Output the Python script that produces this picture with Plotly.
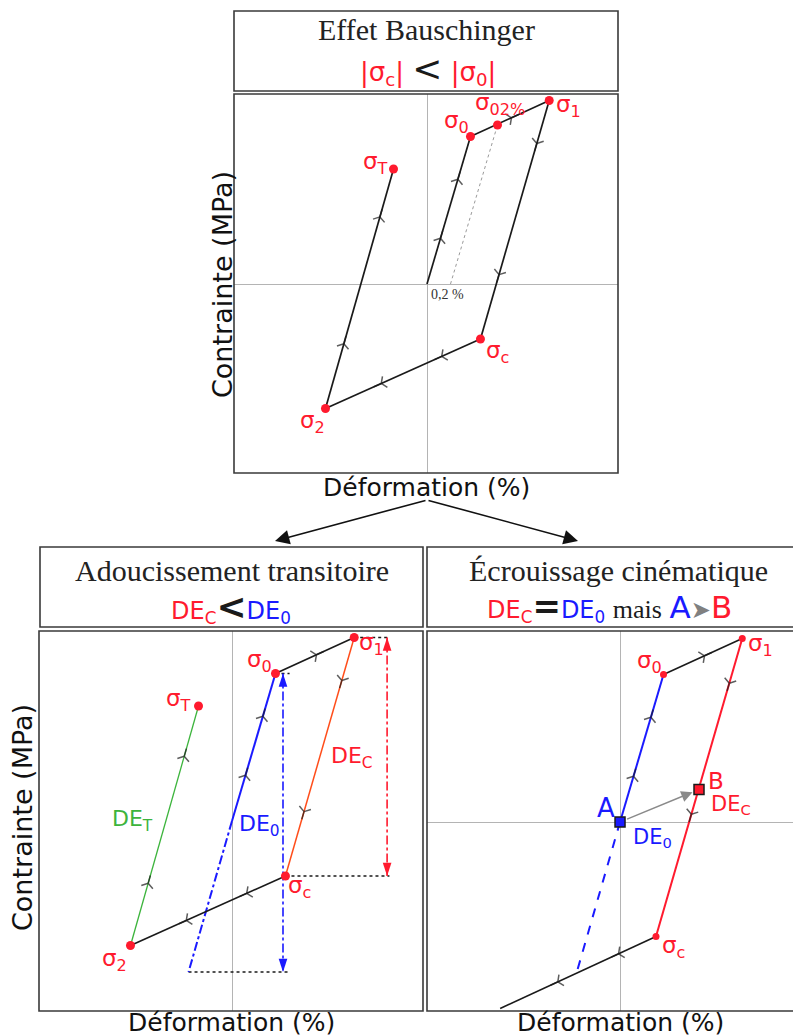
import plotly.graph_objects as go

W, H = 801, 1036
OFF = 8  # page body margin in the browser

# ---------------- data (strain in %, stress in MPa) ----------------
origin = [0.0, 0.0]
sig0 = [0.37, 295]
sig02 = [0.60, 318]
sig1 = [1.04, 367]
sigc = [0.455, -110]
sig2 = [-0.864, -249]
sigT = [-0.285, 230]
offset_02 = [0.20, 0.0]
de0_end = [-0.37, -302]          # lower end of the extended elastic line
sigc_kin = [0.306, -229]         # compressive yield, kinematic hardening
pointA = [0.0, 0.0]
pointB = [0.672, 65]
kin_end = [-1.02, -373]
de0_arrow_x = 0.434
dec_arrow_x = 1.32
dotted_right_end = 0.49

# arrow (chevron) positions along the segments, as fractions
fr_elastic = [0.31, 0.71]
fr_hard = [0.52]
fr_unload = [0.18, 0.73]
fr_reverse = [0.25, 0.64]

RED = "#ff1a2e"
BLUE = "#1a1aff"
GREEN = "#3cb43c"
ORANGE = "#ff4d1a"
INK = "#1a1a1a"

fig = go.Figure()

def PX(x):
    return (x - OFF) / W

def PY(y):
    return 1 - (y - OFF) / H

dom = {
    "1": dict(x=[PX(234), PX(618)], y=[PY(473), PY(94)], xr=[-1.6426, 1.6255], yr=[-378, 380], zy=True),
    "2": dict(x=[PX(39), PX(423)], y=[PY(1011), PY(631)], xr=[-1.6426, 1.6255], yr=[-380, 380], zy=False),
    "3": dict(x=[PX(427), 1.0], y=[PY(1011), PY(631)], xr=[-1.6426, 1.608], yr=[-378, 382], zy=True),
}

def ax_names(k):
    if k == "1":
        return "x", "y"
    return "x" + k, "y" + k

def seg(k, p, q, fr, color, width, dash="solid", arrows=True, arrow_color=INK):
    xa, ya = ax_names(k)
    xs = [p[0]] + [p[0] + t * (q[0] - p[0]) for t in fr] + [q[0]]
    ys = [p[1]] + [p[1] + t * (q[1] - p[1]) for t in fr] + [q[1]]
    sizes = [0] + [10 if arrows else 0] * len(fr) + [0]
    fig.add_trace(go.Scatter(
        x=xs, y=ys, mode="lines+markers", xaxis=xa, yaxis=ya,
        line=dict(color=color, width=width, dash=dash),
        marker=dict(symbol="y-up", size=sizes, angleref="previous", color=arrow_color,
                    line=dict(color=arrow_color, width=1.5)),
        hoverinfo="skip", showlegend=False))

def line(k, xs, ys, color, width, dash="solid"):
    xa, ya = ax_names(k)
    fig.add_trace(go.Scatter(x=xs, y=ys, mode="lines", xaxis=xa, yaxis=ya,
                             line=dict(color=color, width=width, dash=dash),
                             hoverinfo="skip", showlegend=False))

def dots(k, pts, color=RED, size=9, symbol="circle", lc=None):
    xa, ya = ax_names(k)
    fig.add_trace(go.Scatter(x=[p[0] for p in pts], y=[p[1] for p in pts], mode="markers",
                             xaxis=xa, yaxis=ya,
                             marker=dict(color=color, size=size, symbol=symbol,
                                         line=dict(color=lc or color, width=1.5 if lc else 0)),
                             hoverinfo="skip", showlegend=False))

def dbl_arrow(k, x, y_top, y_bot, color):
    xa, ya = ax_names(k)
    line(k, [x, x], [y_top, y_bot], color, 1.6, "dashdot")
    fig.add_trace(go.Scatter(x=[x, x], y=[y_top, y_bot], mode="markers", xaxis=xa, yaxis=ya,
                             marker=dict(symbol="arrow", size=14, angle=[0, 180], color=color,
                                         line=dict(width=0)),
                             hoverinfo="skip", showlegend=False))

# ---------------- top panel : Bauschinger ----------------
line("1", [offset_02[0], sig02[0]], [offset_02[1], sig02[1]], "#9a9a9a", 1, "dot")
seg("1", origin, sig0, fr_elastic, INK, 1.7)
seg("1", sig0, sig1, fr_hard, INK, 1.7)
seg("1", sig1, sigc, fr_unload, INK, 1.7)
seg("1", sigc, sig2, fr_reverse, INK, 1.7)
seg("1", sig2, sigT, [0.27, 0.8], INK, 1.7)
dots("1", [sig0, sig02, sig1, sigc, sig2, sigT])

# ---------------- bottom left : transient softening ----------------
line("2", [sig0[0], dotted_right_end], [sig0[1], sig0[1]], INK, 1.4, "dot")
line("2", [de0_end[0], dotted_right_end], [de0_end[1], de0_end[1]], INK, 1.4, "dot")
line("2", [sig1[0], dec_arrow_x + 0.02], [sig1[1], sig1[1]], INK, 1.4, "dot")
line("2", [sigc[0], dec_arrow_x + 0.02], [sigc[1], sigc[1]], INK, 1.4, "dot")
seg("2", origin, de0_end, [], BLUE, 2, "dashdot", arrows=False)
seg("2", origin, sig0, fr_elastic, BLUE, 2)
seg("2", sig0, sig1, fr_hard, INK, 1.6)
seg("2", sig1, sigc, fr_unload, ORANGE, 1.5)
seg("2", sigc, sig2, fr_reverse, INK, 1.6)
seg("2", sig2, sigT, [0.26, 0.79], GREEN, 1.3)
dbl_arrow("2", de0_arrow_x, sig0[1], de0_end[1], BLUE)
dbl_arrow("2", dec_arrow_x, sig1[1], sigc[1], RED)
dots("2", [sig0, sig1, sigc, sig2, sigT])

# ---------------- bottom right : kinematic hardening ----------------
seg("3", pointA, de0_end, [], BLUE, 2, "dash", arrows=False)
seg("3", pointA, sig0, fr_elastic, BLUE, 2)
seg("3", sig0, sig1, fr_hard, INK, 1.6)
seg("3", sig1, sigc_kin, [0.15, 0.59], RED, 2)
seg("3", sigc_kin, kin_end, [0.24, 0.63], INK, 1.6)
dots("3", [sig0, sig1, sigc_kin], size=7)
dots("3", [pointA], color=BLUE, size=10, symbol="square", lc=INK)
dots("3", [pointB], color=RED, size=10, symbol="square", lc=INK)

# ---------------- axes ----------------
layout_axes = {}
for k, d in dom.items():
    xa, ya = ax_names(k)
    xkey = "xaxis" if k == "1" else "xaxis" + k
    ykey = "yaxis" if k == "1" else "yaxis" + k
    layout_axes[xkey] = dict(domain=d["x"], range=d["xr"], anchor=ya, showgrid=False,
                             showticklabels=False, ticks="", zeroline=True,
                             zerolinecolor="#b4b4b4", zerolinewidth=1.3, showline=False,
                             fixedrange=True)
    layout_axes[ykey] = dict(domain=d["y"], range=d["yr"], anchor=xa, showgrid=False,
                             showticklabels=False, ticks="", zeroline=d["zy"],
                             zerolinecolor="#b4b4b4", zerolinewidth=1.3, showline=False,
                             fixedrange=True)

# ---------------- frames ----------------
shapes = []
def rect(x0, y0, x1, y1):
    shapes.append(dict(type="rect", xref="paper", yref="paper",
                       x0=PX(x0), x1=PX(x1), y0=PY(y1), y1=PY(y0),
                       line=dict(color="#3a3a3a", width=1.6), fillcolor="rgba(0,0,0,0)"))
rect(234, 11, 618, 91)
rect(234, 94, 618, 473)
rect(40, 547, 423, 627)
rect(39, 631, 423, 1011)
rect(427, 547, 840, 627)
rect(427, 631, 840, 1011)

# ---------------- annotations ----------------
ann = []
SANS = "DejaVu Sans"
SERIF = "Liberation Serif"

def ptext(text, x, y, size, color=INK, family=SANS, angle=0):
    ann.append(dict(text=text, x=PX(x), y=PY(y), xref="paper", yref="paper",
                    showarrow=False, textangle=angle,
                    font=dict(family=family, size=size, color=color),
                    xanchor="center", yanchor="middle"))

def dlabel(k, p, text, dx, dy, size=23, color=RED):
    xa, ya = ax_names(k)
    ann.append(dict(text=text, x=p[0], y=p[1], xref=xa, yref=ya, showarrow=False,
                    xshift=dx, yshift=dy, font=dict(family=SANS, size=size, color=color),
                    xanchor="center", yanchor="middle"))

# titles
ptext("Effet Bauschinger", 426, 29, 30, "#222", SERIF)
ptext('<span style="color:%s">|σ<sub>c</sub>|</span> <span style="font-size:36px">&lt;</span> '
      '<span style="color:%s">|σ<sub>0</sub>|</span>' % (RED, RED), 428, 69, 26)
ptext("Adoucissement transitoire", 232, 570, 30, "#222", SERIF)
ptext('<span style="color:%s">DE<sub>C</sub></span><span style="font-size:36px"><b>&lt;</b></span>'
      '<span style="color:%s">DE<sub>0</sub></span>' % (RED, BLUE), 231, 607, 24)
ptext("Écrouissage cinématique", 618, 570, 30, "#222", SERIF)
ptext('<span style="color:%s">DE<sub>C</sub></span><span style="font-size:34px"><b>=</b></span>'
      '<span style="color:%s">DE<sub>0</sub></span> '
      '<span style="font-family:Liberation Serif;font-size:26px">mais</span> '
      '<span style="color:%s;font-size:31px">A</span>'
      '<span style="color:#808080;font-size:24px">➤</span>'
      '<span style="color:%s;font-size:31px">B</span>' % (RED, BLUE, BLUE, RED), 609, 606, 24)

# axis labels
ptext("Contrainte (MPa)", 222, 285, 27, "#111", SANS, -90)
ptext("Déformation (%)", 426, 488, 25, "#111")
ptext("Contrainte (MPa)", 22, 818, 27, "#111", SANS, -90)
ptext("Déformation (%)", 231, 1022, 25, "#111")
ptext("Déformation (%)", 620, 1022, 25, "#111")

# connection arrows
for tip_x, ax_off in [(275, 152), (578, -151)]:
    ann.append(dict(x=PX(tip_x), y=PY(541), xref="paper", yref="paper", text="",
                    showarrow=True, ax=ax_off, ay=-41, axref="pixel", ayref="pixel",
                    arrowhead=2, arrowsize=1.8, arrowwidth=1.6, arrowcolor="#111"))

# point labels, top
dlabel("1", sig0, "σ<sub>0</sub>", -14, 14)
dlabel("1", sig02, "σ<sub>02%</sub>", 2, 21)
dlabel("1", sig1, "σ<sub>1</sub>", 19, -6)
dlabel("1", sigT, "σ<sub>T</sub>", -18, 6)
dlabel("1", sigc, "σ<sub>c</sub>", 17, -13)
dlabel("1", sig2, "σ<sub>2</sub>", -13, -14)
ann.append(dict(text="0,2 %", x=0, y=0, xref="x", yref="y", showarrow=False,
                xanchor="left", yanchor="top", xshift=2, yshift=-1,
                font=dict(family=SERIF, size=14, color="#333")))

# point labels, bottom left
dlabel("2", sig0, "σ<sub>0</sub>", -16, 13)
dlabel("2", sig1, "σ<sub>1</sub>", 17, -6)
dlabel("2", sigT, "σ<sub>T</sub>", -20, 6)
dlabel("2", sigc, "σ<sub>c</sub>", 14, -11)
dlabel("2", sig2, "σ<sub>2</sub>", -16, -14)
ann.append(dict(text="DE<sub>T</sub>", x=-0.851, y=2, xref="x2", yref="y2", showarrow=False,
                font=dict(family=SANS, size=22, color=GREEN)))
ann.append(dict(text="DE<sub>0</sub>", x=0.238, y=-8, xref="x2", yref="y2", showarrow=False,
                font=dict(family=SANS, size=22, color=BLUE)))
ann.append(dict(text="DE<sub>C</sub>", x=1.021, y=128, xref="x2", yref="y2", showarrow=False,
                font=dict(family=SANS, size=22, color=RED)))

# point labels, bottom right
dlabel("3", sig0, "σ<sub>0</sub>", -14, 13)
dlabel("3", sig1, "σ<sub>1</sub>", 18, -6)
dlabel("3", sigc_kin, "σ<sub>c</sub>", 18, -10)
dlabel("3", pointA, "A", -14, 14, size=26, color=BLUE)
dlabel("3", pointA, "DE<sub>0</sub>", 32, -16, size=21, color=BLUE)
dlabel("3", pointB, "B", 17, 9, size=23, color=RED)
dlabel("3", pointB, "DE<sub>C</sub>", 32, -15, size=21, color=RED)
ann.append(dict(x=pointB[0], y=pointB[1], ax=pointA[0], ay=pointA[1], xref="x3", yref="y3",
                axref="x3", ayref="y3", text="", showarrow=True, arrowhead=2, arrowsize=1.5,
                arrowwidth=1.5, arrowcolor="#8a8a8a", standoff=7, startstandoff=6))

fig.update_layout(
    width=W, height=H, margin=dict(l=0, r=0, t=0, b=0),
    paper_bgcolor="white", plot_bgcolor="white",
    showlegend=False, shapes=shapes, annotations=ann, **layout_axes)

fig.write_html("out.html", config={"displayModeBar": False})
